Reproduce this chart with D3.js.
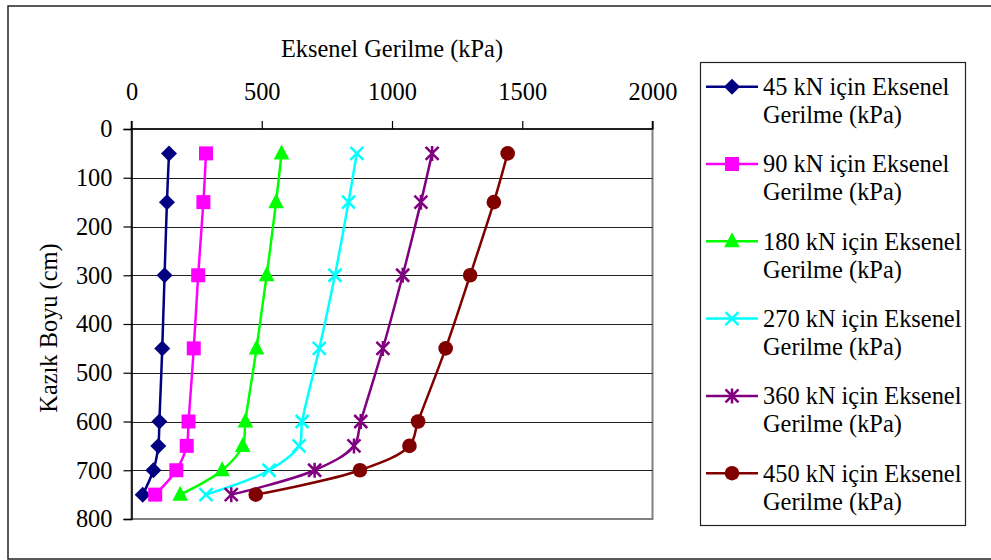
<!DOCTYPE html>
<html>
<head>
<meta charset="utf-8">
<script src="https://cdn.jsdelivr.net/npm/d3@7/dist/d3.min.js"></script>
<style>
  body { margin: 0; background: #fff; }
  svg { display: block; font-family: "Liberation Serif", "Times New Roman", serif; }
</style>
</head>
<body>
<svg id="chart" width="991" height="560"></svg>
<script>
// depth along the pile (cm)
const depths = [50, 150, 300, 450, 600, 650, 700, 750];

// axial stress (kPa) per load level
const stress45 = [144, 136, 127, 118, 107, 103, 84, 43];
const stress90 = [286, 276, 256, 239, 219, 212, 172, 91];
const stress180 = [576, 555, 519, 480, 437, 427, 348, 187];
const stress270 = [865, 833, 781, 721, 655, 643, 528, 286];
const stress360 = [1154, 1111, 1041, 965, 880, 854, 703, 383];
const stress450 = [1444, 1391, 1300, 1206, 1100, 1067, 877, 477];

const seriesNames = [
  "45 kN için Eksenel",
  "90 kN için Eksenel",
  "180 kN için Eksenel",
  "270 kN için Eksenel",
  "360 kN için Eksenel",
  "450 kN için Eksenel"
];
const xTicks = [0, 500, 1000, 1500, 2000];
const yTicks = [0, 100, 200, 300, 400, 500, 600, 700, 800];

const colours = ["#000080", "#FF00FF", "#00FF00", "#00FFFF", "#800080", "#800000"];
const markers = ["diamond", "square", "triangle", "cross", "star", "circle"];

const series = [stress45, stress90, stress180, stress270, stress360, stress450].map((vals, i) => ({
  name: seriesNames[i],
  colour: colours[i],
  marker: markers[i],
  points: vals.map((v, j) => ({ x: v, y: depths[j] }))
}));

const svg = d3.select("#chart");
const fontSize = 24.4;
const fontFamily = "Liberation Serif, Times New Roman, serif";

const plot = { left: 131.5, right: 652.5, top: 129, bottom: 519 };

const x = d3.scaleLinear().domain([0, 2000]).range([plot.left, plot.right]);
const y = d3.scaleLinear().domain([0, 800]).range([plot.top, plot.bottom]);

// outer frame
svg.append("rect")
  .attr("x", 8).attr("y", 6)
  .attr("width", 1000).attr("height", 553)
  .attr("fill", "#fff")
  .attr("stroke", "#222")
  .attr("stroke-width", 1.5);

// plot area border (grey, Excel style)
svg.append("rect")
  .attr("x", plot.left).attr("y", plot.top)
  .attr("width", plot.right - plot.left)
  .attr("height", plot.bottom - plot.top)
  .attr("fill", "none")
  .attr("stroke", "#808080")
  .attr("stroke-width", 2);

// horizontal gridlines
svg.append("g")
  .selectAll("line")
  .data(yTicks.slice(1, -1))
  .enter()
  .append("line")
  .attr("x1", plot.left).attr("x2", plot.right)
  .attr("y1", (d) => Math.round(y(d)) + 0.5)
  .attr("y2", (d) => Math.round(y(d)) + 0.5)
  .attr("stroke", "#222")
  .attr("stroke-width", 1);

// top x axis
const xAxis = d3.axisTop(x).tickValues(xTicks).tickFormat(d3.format("d")).tickSize(8).tickPadding(21);
const gx = svg.append("g")
  .attr("transform", `translate(0,${plot.top})`)
  .attr("font-family", fontFamily)
  .call(xAxis);
gx.attr("font-family", fontFamily).attr("font-size", fontSize);
gx.select(".domain").attr("stroke", "#000").attr("stroke-width", 1.5).attr("d", `M${plot.left},-8V0H${plot.right}V-8`);
gx.selectAll(".tick line").attr("stroke", "#000").attr("stroke-width", 1.2);
gx.selectAll(".tick text").attr("fill", "#000");

// left y axis
const yAxis = d3.axisLeft(y).tickValues(yTicks).tickFormat(d3.format("d")).tickSize(8).tickPadding(11);
const gy = svg.append("g")
  .attr("transform", `translate(${plot.left},0)`)
  .call(yAxis);
gy.attr("font-family", fontFamily).attr("font-size", fontSize);
gy.select(".domain").attr("stroke", "#000").attr("stroke-width", 1.5);
gy.selectAll(".tick line").attr("stroke", "#000").attr("stroke-width", 1.2);
gy.selectAll(".tick text").attr("fill", "#000");

// axis titles
svg.append("text")
  .attr("x", (plot.left + plot.right) / 2)
  .attr("y", 57)
  .attr("text-anchor", "middle")
  .attr("font-size", fontSize)
  .text("Eksenel Gerilme (kPa)");

svg.append("text")
  .attr("transform", `translate(57,${(plot.top + plot.bottom) / 2 + 4}) rotate(-90)`)
  .attr("text-anchor", "middle")
  .attr("font-size", fontSize)
  .text("Kazık Boyu (cm)");

function markerPath(type) {
  switch (type) {
    case "diamond": return "M0,-8L8,0L0,8L-8,0Z";
    case "square": return "M-7,-7H7V7H-7Z";
    case "triangle": return "M0,-9L7.8,6L-7.8,6Z";
    case "cross": return "M-6.5,-6.5L6.5,6.5M-6.5,6.5L6.5,-6.5";
    case "star": return "M-6.5,-6.5L6.5,6.5M-6.5,6.5L6.5,-6.5M0,-7.5V7.5";
    case "circle": return "M7.3,0A7.3,7.3 0 1,1 -7.3,0A7.3,7.3 0 1,1 7.3,0Z";
  }
}

function drawMarker(sel, d) {
  const open = d.marker === "cross" || d.marker === "star";
  sel.append("path")
    .attr("d", markerPath(d.marker))
    .attr("fill", open ? "none" : d.colour)
    .attr("stroke", d.colour)
    .attr("stroke-width", open ? 2.5 : 0);
}

const line = d3.line()
  .x((d) => x(d.x))
  .y((d) => y(d.y))
  .curve(d3.curveCatmullRom.alpha(0.5));

const seriesGroup = svg.append("g")
  .selectAll("g")
  .data(series)
  .enter()
  .append("g");

seriesGroup.append("path")
  .attr("d", (d) => line(d.points))
  .attr("fill", "none")
  .attr("stroke", (d) => d.colour)
  .attr("stroke-width", 2.5);

seriesGroup.each(function (d) {
  d3.select(this)
    .selectAll("g.pt")
    .data(d.points)
    .enter()
    .append("g")
    .attr("class", "pt")
    .attr("transform", (p) => `translate(${x(p.x)},${y(p.y)})`)
    .each(function () { drawMarker(d3.select(this), d); });
});

// legend
svg.append("rect")
  .attr("x", 700.5).attr("y", 62.5)
  .attr("width", 265).attr("height", 463)
  .attr("fill", "#fff")
  .attr("stroke", "#222")
  .attr("stroke-width", 1.2);

const legend = svg.append("g")
  .selectAll("g")
  .data(series)
  .enter()
  .append("g")
  .attr("transform", (d, i) => `translate(0,${95 + i * 77.3})`);

legend.append("line")
  .attr("x1", 706).attr("x2", 758)
  .attr("y1", -8.3).attr("y2", -8.3)
  .attr("stroke", (d) => d.colour)
  .attr("stroke-width", 2.5);

legend.each(function (d) {
  const g = d3.select(this).append("g").attr("transform", "translate(732,-8.3)");
  drawMarker(g, d);
});

legend.append("text")
  .attr("x", 763).attr("y", 0)
  .attr("font-size", fontSize)
  .text((d) => d.name);

legend.append("text")
  .attr("x", 763).attr("y", 28)
  .attr("font-size", fontSize)
  .text("Gerilme (kPa)");
</script>
</body>
</html>
